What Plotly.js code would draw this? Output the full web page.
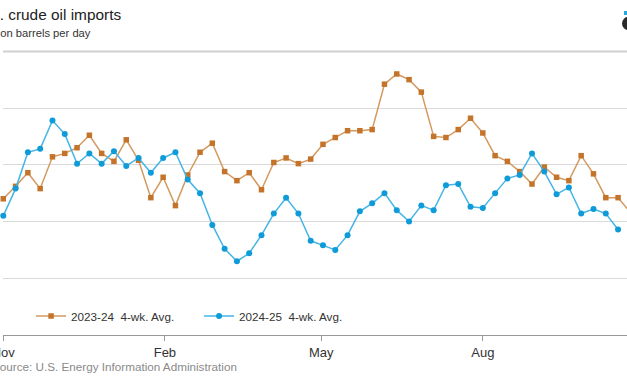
<!DOCTYPE html>
<html>
<head>
<meta charset="utf-8">
<script src="https://cdn.plot.ly/plotly-3.0.1.min.js"></script>
<style>html,body{margin:0;padding:0;background:#fff;}#chart{width:627px;height:376px;}</style>
</head>
<body>
<div id="chart"></div>
<script>
// Weekly 4-week average U.S. crude oil imports, million barrels per day
const firstWeek = '2024-11-01';
const series2324Name = '2023-24  4-wk. Avg.';
const series2425Name = '2024-25  4-wk. Avg.';
const values2324 = [6.20,6.31,6.43,6.29,6.57,6.60,6.65,6.76,6.60,6.53,6.72,6.54,6.21,6.39,6.14,6.41,6.61,6.69,6.44,6.36,6.43,6.28,6.52,6.56,6.51,6.55,6.68,6.74,6.80,6.80,6.81,7.21,7.30,7.25,7.14,6.75,6.74,6.81,6.91,6.78,6.58,6.53,6.44,6.33,6.48,6.39,6.36,6.58,6.42,6.21,6.21,6.08];
const values2425 = [6.05,6.29,6.61,6.64,6.89,6.77,6.51,6.60,6.51,6.62,6.49,6.56,6.43,6.56,6.61,6.37,6.25,5.97,5.76,5.65,5.72,5.88,6.07,6.21,6.07,5.83,5.79,5.75,5.88,6.09,6.16,6.25,6.10,6.00,6.14,6.10,6.32,6.33,6.13,6.12,6.25,6.38,6.41,6.60,6.44,6.24,6.30,6.07,6.11,6.07,5.93];
const gridValues = [5,5.5,6,6.5,7,7.5];
const tickDates = ['2024-11-01','2025-02-01','2025-05-01','2025-08-01'];
const tickLabels = ['Nov','Feb','May','Aug'];

function weeks(n){
  const out=[]; const d0=new Date(firstWeek+'T00:00:00Z');
  for(let i=0;i<n;i++){const d=new Date(d0.getTime()+i*7*86400000);out.push(d.toISOString().slice(0,10));}
  return out;
}
const FONT='"Liberation Sans", Arial, sans-serif';
const PH=286; // plot height in px (t=49, b=41)
const py=p=>(335-p)/PH; // page pixel y -> paper y
const traces=[
 {x:weeks(values2324.length),y:values2324,name:series2324Name,type:'scatter',mode:'lines+markers',cliponaxis:false,
  line:{color:'#d39a60',width:1.5},marker:{symbol:'square',size:5.5,color:'#c4742a'}},
 {x:weeks(values2425.length),y:values2425,name:series2425Name,type:'scatter',mode:'lines+markers',cliponaxis:false,
  line:{color:'#45b4e6',width:1.5},marker:{symbol:'circle',size:6,color:'#0e9bd8'}}
];
const layout={
 width:627,height:376,margin:{l:3,r:0,t:49,b:41},paper_bgcolor:'#fff',plot_bgcolor:'#fff',
 font:{family:FONT,color:'#333'},showlegend:true,
 xaxis:{type:'date',range:['2024-10-31 20:00','2025-10-22 02:00'],tickvals:tickDates,ticktext:tickLabels,
  ticks:'outside',ticklen:5,tickcolor:'#999',showline:true,linecolor:'#999',linewidth:1,showgrid:false,zeroline:false,
  ticklabeloverflow:'allow',tickfont:{size:13,color:'#333',family:FONT}},
 yaxis:{range:[5,7.52],tickvals:gridValues,showticklabels:false,gridcolor:'#d9d9d9',gridwidth:1,zeroline:false,showline:false,ticks:''},
 legend:{orientation:'h',x:0.045,xanchor:'left',y:py(316),yanchor:'middle',bgcolor:'rgba(0,0,0,0)',
  font:{size:11.7,color:'#333',family:FONT},entrywidth:123,entrywidthmode:'pixels',itemwidth:30},
 annotations:[
  {text:'U.S. crude oil imports',xref:'paper',yref:'paper',x:0,y:py(15),xanchor:'left',yanchor:'middle',xshift:-30.7,showarrow:false,
   font:{size:15.4,color:'#222',family:FONT}},
  {text:'million barrels per day',xref:'paper',yref:'paper',x:0,y:py(33),xanchor:'left',yanchor:'middle',xshift:-24.3,showarrow:false,
   font:{size:11.2,color:'#333',family:FONT}},
  {text:'Source: U.S. Energy Information Administration',xref:'paper',yref:'paper',x:0,y:py(366),xanchor:'left',yanchor:'middle',xshift:-12.8,showarrow:false,
   font:{size:11.7,color:'#8a8a8a',family:FONT}}
 ],
 shapes:[
  {type:'line',xref:'paper',yref:'paper',x0:0,x1:1,y0:py(51.5),y1:py(51.5),layer:'above',line:{color:'#d0d0d0',width:2}},
  {type:'circle',xref:'paper',yref:'paper',x0:(622-3)/624,x1:(634-3)/624,y0:py(30),y1:py(17),fillcolor:'#2b2b2b',line:{width:0}},
  {type:'rect',xref:'paper',yref:'paper',x0:(624-3)/624,x1:(630-3)/624,y0:py(15),y1:py(11),fillcolor:'#29a8e0',line:{width:0}}
 ]
};
Plotly.newPlot('chart',traces,layout,{displayModeBar:false,staticPlot:true});
</script>
</body>
</html>
